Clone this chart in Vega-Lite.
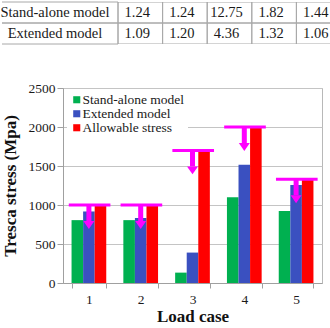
{
  "$schema": "https://vega.github.io/schema/vega-lite/v6.json",
  "padding": {"left": 0, "top": 1, "right": 0, "bottom": 0},
  "background": "white",
  "config": {
    "font": "Liberation Serif",
    "view": {"stroke": null},
    "axis": {"labelFont": "Liberation Serif", "titleFont": "Liberation Serif"},
    "legend": {"labelFont": "Liberation Serif"}
  },
  "datasets": {
    "ratios": [
      {"model": "Stand-alone model", "case": "1", "ratio": "1.24"},
      {"model": "Stand-alone model", "case": "2", "ratio": "1.24"},
      {"model": "Stand-alone model", "case": "3", "ratio": "12.75"},
      {"model": "Stand-alone model", "case": "4", "ratio": "1.82"},
      {"model": "Stand-alone model", "case": "5", "ratio": "1.44"},
      {"model": "Extended model", "case": "1", "ratio": "1.09"},
      {"model": "Extended model", "case": "2", "ratio": "1.20"},
      {"model": "Extended model", "case": "3", "ratio": "4.36"},
      {"model": "Extended model", "case": "4", "ratio": "1.32"},
      {"model": "Extended model", "case": "5", "ratio": "1.06"}
    ],
    "stress": [
      {"case": "1", "series": "Stand-alone model", "value": 806},
      {"case": "1", "series": "Extended model", "value": 917},
      {"case": "1", "series": "Allowable stress", "value": 1000},
      {"case": "2", "series": "Stand-alone model", "value": 806},
      {"case": "2", "series": "Extended model", "value": 833},
      {"case": "2", "series": "Allowable stress", "value": 1000},
      {"case": "3", "series": "Stand-alone model", "value": 133},
      {"case": "3", "series": "Extended model", "value": 390},
      {"case": "3", "series": "Allowable stress", "value": 1700},
      {"case": "4", "series": "Stand-alone model", "value": 1099},
      {"case": "4", "series": "Extended model", "value": 1515},
      {"case": "4", "series": "Allowable stress", "value": 2000},
      {"case": "5", "series": "Stand-alone model", "value": 924},
      {"case": "5", "series": "Extended model", "value": 1255},
      {"case": "5", "series": "Allowable stress", "value": 1330}
    ],
    "limits": [
      {"case": "1", "allowable": 1000, "arrowEnd": 795},
      {"case": "2", "allowable": 1000, "arrowEnd": 795},
      {"case": "3", "allowable": 1700, "arrowEnd": 1495},
      {"case": "4", "allowable": 2000, "arrowEnd": 1795},
      {"case": "5", "allowable": 1330, "arrowEnd": 1125}
    ]
  },
  "vconcat": [
    {
      "width": 268,
      "height": 42,
      "data": {"name": "ratios"},
      "resolve": {"scale": {"x": "independent"}},
      "encoding": {
        "y": {
          "field": "model",
          "type": "nominal",
          "sort": ["Stand-alone model", "Extended model"],
          "scale": {"paddingInner": 0, "paddingOuter": 0},
          "axis": null
        }
      },
      "layer": [
        {
          "mark": {"type": "rule", "color": "#A8A8A8", "strokeWidth": 1, "clip": true},
          "encoding": {
            "x": {"field": "case", "type": "ordinal", "bandPosition": 0, "scale": {"range": [55, 278], "paddingInner": 0, "paddingOuter": 0}, "axis": null},
            "x2": {"field": "case", "bandPosition": 1},
            "y": {"field": "model", "type": "nominal", "sort": ["Stand-alone model", "Extended model"], "bandPosition": 0}
          }
        },
        {
          "mark": {"type": "rule", "color": "#A8A8A8", "strokeWidth": 1, "clip": true},
          "encoding": {
            "x": {"field": "case", "type": "ordinal", "bandPosition": 0, "scale": {"range": [55, 278], "paddingInner": 0, "paddingOuter": 0}, "axis": null},
            "x2": {"field": "case", "bandPosition": 1},
            "y": {"field": "model", "type": "nominal", "sort": ["Stand-alone model", "Extended model"], "bandPosition": 1}
          }
        },
        {
          "mark": {"type": "rule", "color": "#A8A8A8", "strokeWidth": 1},
          "encoding": {
            "y": null,
            "x": {"field": "case", "type": "ordinal", "bandPosition": 0, "scale": {"range": [55, 278], "paddingInner": 0, "paddingOuter": 0}, "axis": null}
          }
        },
        {
          "mark": {"type": "text", "fontSize": 14.5, "color": "#1a1a1a", "dx": -3},
          "encoding": {
            "x": {"field": "case", "type": "ordinal", "scale": {"range": [55, 278], "paddingInner": 0, "paddingOuter": 0}, "axis": null},
            "text": {"field": "ratio"}
          }
        },
        {
          "transform": [{"filter": "datum.case === '1'"}],
          "mark": {"type": "rule", "color": "#A8A8A8", "strokeWidth": 1},
          "encoding": {
            "x": {"datum": "model", "type": "nominal", "bandPosition": 0, "scale": {"domain": ["model"], "range": [-61, 55], "paddingInner": 0, "paddingOuter": 0}, "axis": null},
            "x2": {"datum": "model", "bandPosition": 1},
            "y": {"field": "model", "type": "nominal", "sort": ["Stand-alone model", "Extended model"], "bandPosition": 0}
          }
        },
        {
          "transform": [{"filter": "datum.case === '1'"}],
          "mark": {"type": "rule", "color": "#A8A8A8", "strokeWidth": 1},
          "encoding": {
            "x": {"datum": "model", "type": "nominal", "bandPosition": 0, "scale": {"domain": ["model"], "range": [-61, 55], "paddingInner": 0, "paddingOuter": 0}, "axis": null},
            "x2": {"datum": "model", "bandPosition": 1},
            "y": {"field": "model", "type": "nominal", "sort": ["Stand-alone model", "Extended model"], "bandPosition": 1}
          }
        },
        {
          "transform": [{"filter": "datum.case === '1'"}],
          "mark": {"type": "text", "fontSize": 14.5, "color": "#1a1a1a", "dx": -5},
          "encoding": {
            "x": {"datum": "model", "type": "nominal", "scale": {"domain": ["model"], "range": [-61, 55], "paddingInner": 0, "paddingOuter": 0}, "axis": null},
            "text": {"field": "model"}
          }
        }
      ]
    },
    {
      "width": 259,
      "height": 195,
      "view": {"stroke": "#B8B8B8", "strokeWidth": 1},
      "encoding": {
        "x": {
          "field": "case",
          "type": "ordinal",
          "scale": {"paddingInner": 0.33, "paddingOuter": 0.165},
          "axis": {
            "title": "Load case",
            "titleFontSize": 17,
            "titleFontWeight": "bold",
            "titleColor": "#111",
            "titlePadding": 3,
            "labelFontSize": 13.5,
            "labelColor": "#1a1a1a",
            "labelAngle": 0,
            "labelPadding": 4,
            "tickBand": "extent",
            "tickSize": 5,
            "tickColor": "#A0A0A0",
            "domainColor": "#A0A0A0",
            "grid": false
          }
        },
        "y": {
          "field": "value",
          "type": "quantitative",
          "scale": {"domain": [0, 2500], "nice": false},
          "axis": {
            "title": "Tresca stress (Mpa)",
            "titleFontSize": 17,
            "titleFontWeight": "bold",
            "titleColor": "#111",
            "titlePadding": 9,
            "values": [0, 500, 1000, 1500, 2000, 2500],
            "format": "d",
            "labelOverlap": false,
            "labelFontSize": 13.5,
            "labelColor": "#1a1a1a",
            "labelPadding": 2,
            "tickSize": 6,
            "tickColor": "#A0A0A0",
            "domainColor": "#A0A0A0",
            "grid": true,
            "gridColor": "#C4C4C4",
            "gridWidth": 1
          }
        }
      },
      "layer": [
        {
          "data": {"name": "stress"},
          "mark": {"type": "bar"},
          "encoding": {
            "xOffset": {
              "field": "series",
              "type": "nominal",
              "sort": ["Stand-alone model", "Extended model", "Allowable stress"],
              "scale": {"paddingInner": 0, "paddingOuter": 0}
            },
            "color": {
              "field": "series",
              "type": "nominal",
              "sort": ["Stand-alone model", "Extended model", "Allowable stress"],
              "scale": {
                "domain": ["Stand-alone model", "Extended model", "Allowable stress"],
                "range": ["#00B050", "#3A50C0", "#FF0000"]
              },
              "legend": {
                "title": null,
                "orient": "none",
                "legendX": 4,
                "legendY": 88,
                "fillColor": "white",
                "padding": 3,
                "symbolType": "square",
                "symbolSize": 50,
                "symbolStrokeWidth": 0,
                "labelFontSize": 13.5,
                "labelColor": "#1a1a1a",
                "labelOffset": -1,
                "rowPadding": -4
              }
            }
          }
        },
        {
          "data": {"name": "limits"},
          "mark": {"type": "rule", "color": "#FF00FF", "strokeWidth": 3},
          "encoding": {
            "x": {"field": "case", "type": "ordinal", "bandPosition": -0.08},
            "x2": {"field": "case", "bandPosition": 1.12},
            "y": {"field": "allowable", "type": "quantitative"}
          }
        },
        {
          "data": {"name": "limits"},
          "mark": {"type": "rule", "color": "#FF00FF", "strokeWidth": 5},
          "encoding": {
            "x": {"field": "case", "type": "ordinal", "bandPosition": 0.5},
            "y": {"field": "allowable", "type": "quantitative"},
            "y2": {"field": "arrowEnd"}
          }
        },
        {
          "data": {"name": "limits"},
          "mark": {
            "type": "point",
            "shape": "M-1,0L1,0L0,1.45Z",
            "filled": true,
            "opacity": 1,
            "size": 121,
            "color": "#FF00FF",
            "strokeWidth": 0
          },
          "encoding": {
            "x": {"field": "case", "type": "ordinal", "bandPosition": 0.5},
            "y": {"field": "arrowEnd", "type": "quantitative"}
          }
        }
      ]
    }
  ],
  "spacing": 35
}
